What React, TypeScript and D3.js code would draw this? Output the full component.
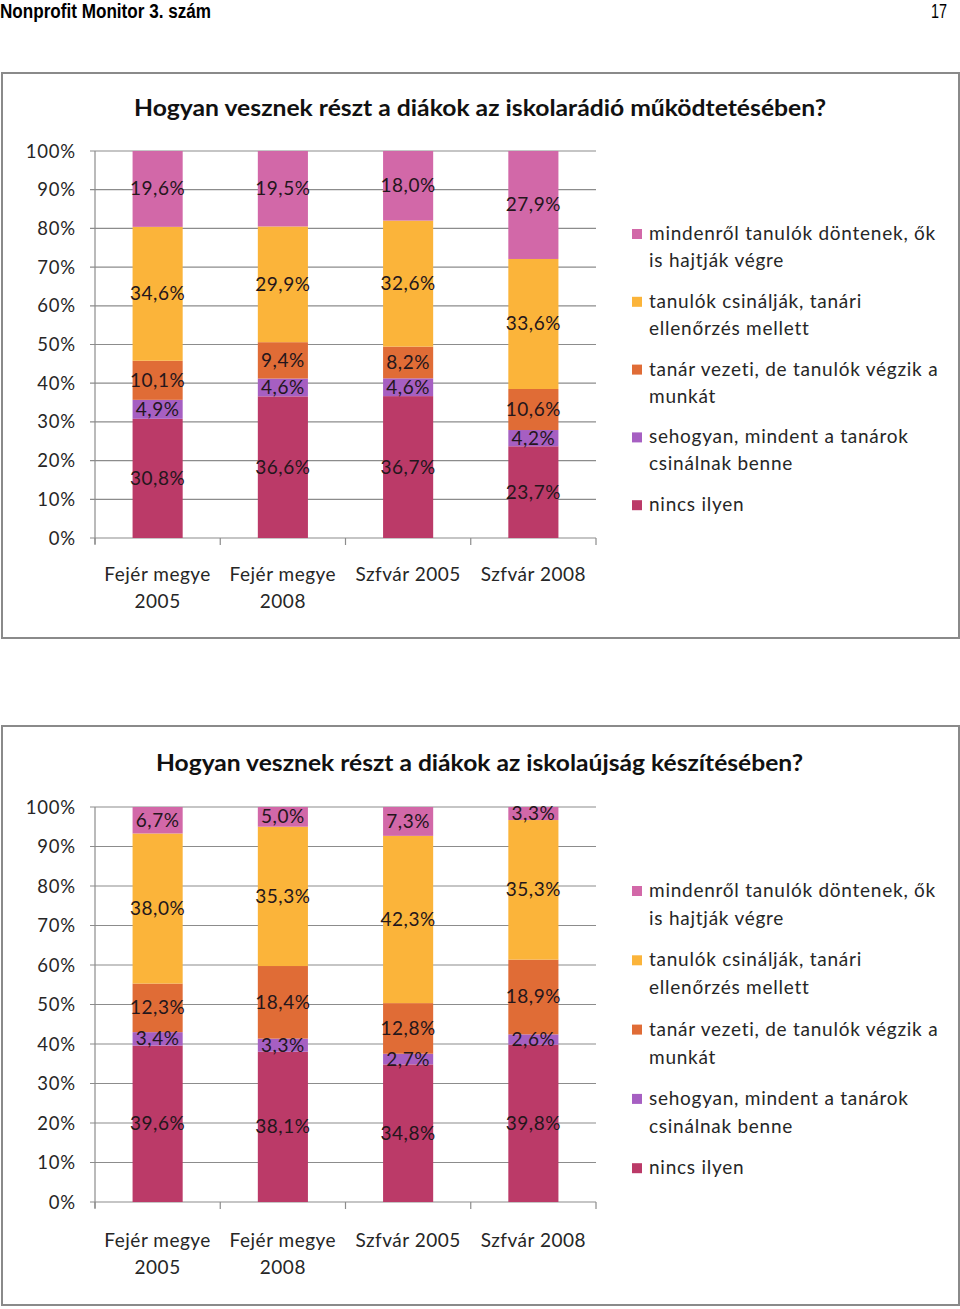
import React from "react";
import * as d3 from "d3";

const categories = ["Fejér megye 2005", "Fejér megye 2008", "Szfvár 2005", "Szfvár 2008"];
const categoryLines = [["Fejér megye", "2005"], ["Fejér megye", "2008"], ["Szfvár 2005"], ["Szfvár 2008"]];

const seriesKeys = ["nincs", "sehogyan", "tanar", "tanulok", "mindenrol"];
const seriesNames: Record<string, string[]> = {
  mindenrol: ["mindenről tanulók döntenek, ők", "is hajtják végre"],
  tanulok: ["tanulók csinálják, tanári", "ellenőrzés mellett"],
  tanar: ["tanár vezeti, de tanulók végzik a", "munkát"],
  sehogyan: ["sehogyan, mindent a tanárok", "csinálnak benne"],
  nincs: ["nincs ilyen"],
};
const seriesColors: Record<string, string> = {
  mindenrol: "#D268A8",
  tanulok: "#FBB43A",
  tanar: "#E06C36",
  sehogyan: "#A65FC2",
  nincs: "#BB3A68",
};
const legendOrder = ["mindenrol", "tanulok", "tanar", "sehogyan", "nincs"];

// Chart 1: iskolarádió
const radioNincs = [30.8, 36.6, 36.7, 23.7];
const radioSehogyan = [4.9, 4.6, 4.6, 4.2];
const radioTanar = [10.1, 9.4, 8.2, 10.6];
const radioTanulok = [34.6, 29.9, 32.6, 33.6];
const radioMindenrol = [19.6, 19.5, 18.0, 27.9];

// Chart 2: iskolaújság
const ujsagNincs = [39.6, 38.1, 34.8, 39.8];
const ujsagSehogyan = [3.4, 3.3, 2.7, 2.6];
const ujsagTanar = [12.3, 18.4, 12.8, 18.9];
const ujsagTanulok = [38.0, 35.3, 42.3, 35.3];
const ujsagMindenrol = [6.7, 5.0, 7.3, 3.3];

const yTicks = [0, 0.1, 0.2, 0.3, 0.4, 0.5, 0.6, 0.7, 0.8, 0.9, 1];

const FONT = "Lato, 'Open Sans', sans-serif";
const TEXT = "#262626";

type Row = Record<string, number> & { idx: number };

function buildRows(nincs: number[], seh: number[], tanar: number[], tanulok: number[], mind: number[]): Row[] {
  return categories.map((_, i) => ({
    idx: i,
    nincs: nincs[i],
    sehogyan: seh[i],
    tanar: tanar[i],
    tanulok: tanulok[i],
    mindenrol: mind[i],
  })) as Row[];
}

interface ChartProps {
  title: string;
  titleWidth: number;
  titleX: number;
  frameTop: number;
  frameBottom: number;
  titleY: number;
  plotTop: number;
  plotBottom: number;
  xLabelY: number;
  xLineGap: number;
  legendY: number;
  legendStep: number;
  legendLine: number;
  rows: Row[];
}

function Chart(p: ChartProps) {
  const left = 95;
  const right = 596;
  const x = d3.scaleBand<number>().domain(categories.map((_, i) => i)).range([left, right]).paddingInner(0.6).paddingOuter(0.3);
  const xStep = d3.scaleBand<number>().domain(categories.map((_, i) => i)).range([left, right]);
  const y = d3.scaleLinear().domain([0, 1]).range([p.plotBottom, p.plotTop]);
  const stack = d3.stack<Row>().keys(seriesKeys).offset(d3.stackOffsetExpand);
  const layers = stack(p.rows);
  const fmt = (v: number) => v.toFixed(1).replace(".", ",") + "%";

  return (
    <g>
      <rect x={2} y={p.frameTop} width={957} height={p.frameBottom - p.frameTop} fill="#fff" stroke="#8a8a8a" strokeWidth={2} />
      <text x={p.titleX} y={p.titleY} fontFamily={FONT} fontWeight="bold" fontSize={22.5} fill="#111" textLength={p.titleWidth} lengthAdjust="spacingAndGlyphs">
        {p.title}
      </text>
      {yTicks.map((t) => (
        <g key={t}>
          <line x1={90} x2={right} y1={y(t)} y2={y(t)} stroke="#8c8c8c" strokeWidth={1.2} />
          <text x={76} y={y(t) + 6.5} textAnchor="end" fontFamily={FONT} fontSize={18.5} letterSpacing={0.8} fill={TEXT}>
            {Math.round(t * 100) + "%"}
          </text>
        </g>
      ))}
      <line x1={left} x2={left} y1={p.plotTop} y2={p.plotBottom + 6} stroke="#8c8c8c" strokeWidth={1.2} />
      {[...categories.map((_, i) => xStep(i)!), right].map((xx, i) => (
        <line key={i} x1={xx} x2={xx} y1={p.plotBottom} y2={p.plotBottom + 7} stroke="#8c8c8c" strokeWidth={1.2} />
      ))}
      {layers.map((layer) => (
        <g key={layer.key}>
          {layer.map((d, i) => (
            <rect key={i} x={x(i)} width={x.bandwidth()} y={y(d[1])} height={y(d[0]) - y(d[1])} fill={seriesColors[layer.key]} />
          ))}
        </g>
      ))}
      {layers.map((layer) => (
        <g key={"l" + layer.key}>
          {layer.map((d, i) => (
            <text key={i} x={x(i)! + x.bandwidth() / 2} y={(y(d[0]) + y(d[1])) / 2 + 6.5} textAnchor="middle" fontFamily={FONT} fontSize={19} letterSpacing={0.5} fill="#24161c">
              {fmt((d.data as any)[layer.key])}
            </text>
          ))}
        </g>
      ))}
      {categoryLines.map((lines, i) => (
        <text key={i} textAnchor="middle" fontFamily={FONT} fontSize={19} letterSpacing={0.5} fill={TEXT}>
          {lines.map((ln, j) => (
            <tspan key={j} x={xStep(i)! + xStep.bandwidth() / 2} y={p.xLabelY + j * p.xLineGap}>
              {ln}
            </tspan>
          ))}
        </text>
      ))}
      {legendOrder.map((k, i) => {
        const yy = p.legendY + i * p.legendStep;
        return (
          <g key={k}>
            <rect x={632} y={yy - 11} width={10} height={10} fill={seriesColors[k]} />
            <text fontFamily={FONT} fontSize={19} letterSpacing={0.75} fill={TEXT}>
              {seriesNames[k].map((ln, j) => (
                <tspan key={j} x={649} y={yy + j * p.legendLine}>
                  {ln}
                </tspan>
              ))}
            </text>
          </g>
        );
      })}
    </g>
  );
}

export default function App() {
  const radioRows = buildRows(radioNincs, radioSehogyan, radioTanar, radioTanulok, radioMindenrol);
  const ujsagRows = buildRows(ujsagNincs, ujsagSehogyan, ujsagTanar, ujsagTanulok, ujsagMindenrol);
  return (
    <div style={{ position: "absolute", left: 0, top: 0 }}>
      <svg width={960} height={1309} style={{ display: "block", background: "#fff" }}>
        <text x={0} y={18} fontFamily="'Liberation Sans Narrow', 'Arial Narrow', 'Liberation Sans', sans-serif" fontWeight="bold" fontSize={20} fill="#000" textLength={211} lengthAdjust="spacingAndGlyphs">
          Nonprofit Monitor 3. szám
        </text>
        <text x={931} y={18} fontFamily="'Liberation Sans Narrow', 'Arial Narrow', 'Liberation Sans', sans-serif" fontSize={20} fill="#000" textLength={16} lengthAdjust="spacingAndGlyphs">
          17
        </text>
        <Chart
          title="Hogyan vesznek részt a diákok az iskolarádió  működtetésében?"
          titleX={134}
          titleWidth={692}
          frameTop={73}
          frameBottom={638}
          titleY={116}
          plotTop={151}
          plotBottom={538}
          xLabelY={581}
          xLineGap={27}
          legendY={240}
          legendStep={67.8}
          legendLine={27}
          rows={radioRows}
        />
        <Chart
          title="Hogyan vesznek részt a diákok az iskolaújság  készítésében?"
          titleX={156}
          titleWidth={647}
          frameTop={726}
          frameBottom={1305}
          titleY={771}
          plotTop={807}
          plotBottom={1202}
          xLabelY={1247}
          xLineGap={27}
          legendY={897}
          legendStep={69.3}
          legendLine={28}
          rows={ujsagRows}
        />
      </svg>
    </div>
  );
}
